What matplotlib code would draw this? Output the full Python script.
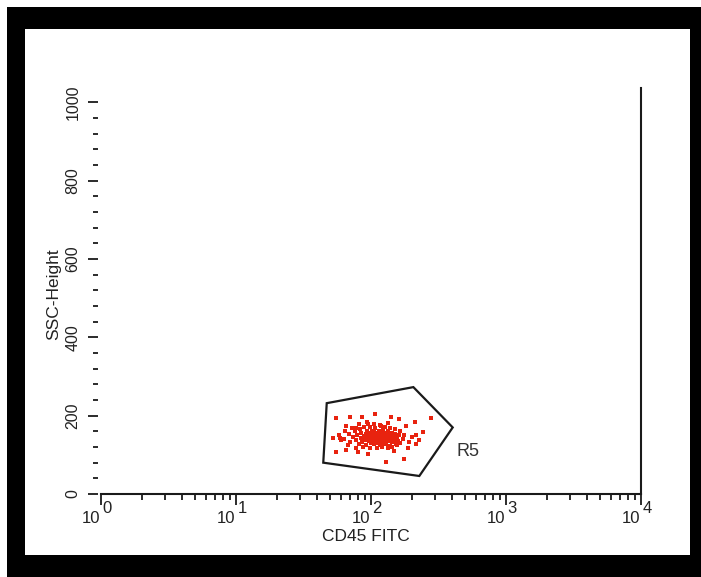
import matplotlib
matplotlib.use("Agg")
import matplotlib.pyplot as plt
from matplotlib.patches import Polygon, Rectangle
from matplotlib.ticker import FixedLocator, MultipleLocator, NullFormatter
import numpy as np

plt.rcParams['font.family'] = ['Liberation Sans', 'DejaVu Sans']

# Events inside gate R5: CD45 FITC intensity and SSC-Height
cd45 = [55, 70, 86, 107, 141, 161, 212, 65, 77, 95, 119, 134, 182, 243, 52, 59,
        55, 65, 80, 95, 148, 129, 175, 215, 188, 278,
        63, 69, 70, 74, 76, 77, 79, 81, 83, 84,
        85, 86, 88, 89, 90, 92, 92, 93, 95, 96,
        97, 98, 99, 99, 100, 101, 102, 103, 104, 105,
        106, 106, 107, 108, 109, 110, 111, 112, 113, 114,
        114, 115, 117, 118, 119, 120, 121, 122, 123, 124,
        126, 128, 128, 130, 132, 134, 136, 137, 139, 141,
        143, 144, 146, 148, 150, 152, 155, 158, 162, 165,
        67, 72, 77, 82, 87, 94, 99, 105, 111, 116,
        121, 127, 133, 138, 143, 150, 157, 164, 172, 176,
        58, 60, 64, 190, 200, 215, 228]
ssc = [194, 197, 197, 205, 197, 192, 184, 174, 169, 179, 174, 182, 174, 159, 143, 143,
       107, 113, 107, 102, 110, 82, 90, 128, 118, 194,
       140, 152, 132, 146, 160, 138, 150, 128, 165, 142,
       155, 134, 148, 170, 138, 152, 125, 160, 144, 135,
       150, 172, 140, 156, 130, 146, 162, 137, 150, 128,
       158, 143, 168, 135, 150, 140, 155, 130, 145, 162,
       138, 152, 125, 147, 160, 136, 150, 142, 165, 131,
       148, 138, 156, 128, 144, 160, 135, 150, 122, 142,
       156, 133, 147, 138, 152, 128, 145, 136, 150, 130,
       126, 168, 118, 178, 120, 183, 117, 180, 118, 176,
       120, 172, 118, 168, 120, 165, 124, 160, 140, 150,
       150, 138, 160, 132, 145, 150, 138]

# Gate R5 vertices (CD45, SSC)
gate_cd45 = [47, 206, 403, 228, 44.3]
gate_ssc = [232, 273, 170, 46, 80]
gate_name = "R5"
gate_label_pos = (430, 108)

x_decades = [0, 1, 2, 3, 4]
y_major = [0, 200, 400, 600, 800, 1000]
y_labels = ["0", "200", "400", "600", "800", "1000"]

W, H = 701, 577
fig = plt.figure(figsize=(W / 100, H / 100), dpi=100)
fig.patch.set_facecolor('white')

# Black picture frame around the plot
def fr(x0, y0, x1, y1):
    return (x0 / W, 1 - y1 / H), (x1 - x0) / W, (y1 - y0) / H

xy, w, h = fr(7, 7, 701, 577)
fig.add_artist(Rectangle(xy, w, h, transform=fig.transFigure, facecolor='black',
                         edgecolor='none', zorder=-20))
xy, w, h = fr(25, 29, 690, 555)
fig.add_artist(Rectangle(xy, w, h, transform=fig.transFigure, facecolor='white',
                         edgecolor='none', zorder=-19))

ax = fig.add_axes([101 / W, 1 - 494 / H, 540 / W, 406 / H])
ax.patch.set_alpha(0)

ax.scatter(cd45, ssc, s=9, marker='s', color='#e8230f', linewidths=0, zorder=3)

gate = Polygon(np.column_stack([gate_cd45, gate_ssc]), closed=True, fill=False,
               edgecolor='#1a1a1a', linewidth=1.6, zorder=4)
ax.add_patch(gate)
ax.text(gate_label_pos[0], gate_label_pos[1], gate_name, fontsize=13,
        color='#333333', ha='left', va='center')

ax.set_xscale('log')
ax.set_xlim(1, 1e4)
ax.set_ylim(0, 1037)

ax.spines['top'].set_visible(False)
ax.spines['left'].set_visible(False)
ax.spines['left'].set_position(('outward', 2.2))
for side in ('bottom', 'right'):
    ax.spines[side].set_linewidth(1.5)
    ax.spines[side].set_color('#1a1a1a')

# y axis: major every 200, minor every 40, rotated labels
ax.yaxis.set_major_locator(FixedLocator(y_major))
ax.set_yticklabels(y_labels)
ax.yaxis.set_minor_locator(MultipleLocator(40))
ax.tick_params(axis='y', which='major', direction='out', length=7.2, width=1.3,
               color='#1a1a1a', labelsize=11.5, labelcolor='#222222', pad=5.5,
               labelrotation=90)
ax.tick_params(axis='y', which='minor', direction='out', length=3.6, width=1.3,
               color='#1a1a1a')
for lab in ax.get_yticklabels():
    lab.set_va('center')

# x axis: log decades with full-size exponents
ax.xaxis.set_major_locator(FixedLocator([10.0 ** d for d in x_decades]))
ax.xaxis.set_minor_locator(FixedLocator(
    [m * 10.0 ** d for d in x_decades[:-1] for m in range(2, 10)]))
ax.xaxis.set_major_formatter(NullFormatter())
ax.xaxis.set_minor_formatter(NullFormatter())
ax.tick_params(axis='x', which='major', direction='out', length=8, width=1.3,
               color='#1a1a1a')
ax.tick_params(axis='x', which='minor', direction='out', length=4, width=1.3,
               color='#1a1a1a')
for d in x_decades:
    ax.annotate("10", xy=(10.0 ** d, 0), xycoords=('data', 'axes fraction'),
                xytext=(-0.5, -17.5), textcoords='offset points',
                ha='right', va='center', fontsize=12, color='#222222')
    ax.annotate(str(d), xy=(10.0 ** d, 0), xycoords=('data', 'axes fraction'),
                xytext=(1.0, -10.2), textcoords='offset points',
                ha='left', va='center', fontsize=12, color='#222222')

ax.set_xlabel("CD45 FITC", fontsize=12.5, color='#222222')
ax.xaxis.set_label_coords(0.49, -0.087)
ax.set_ylabel("SSC-Height", fontsize=12.5, color='#222222')
ax.yaxis.set_label_coords(-0.074, 0.4926)

fig.savefig("out.png", dpi=100)
